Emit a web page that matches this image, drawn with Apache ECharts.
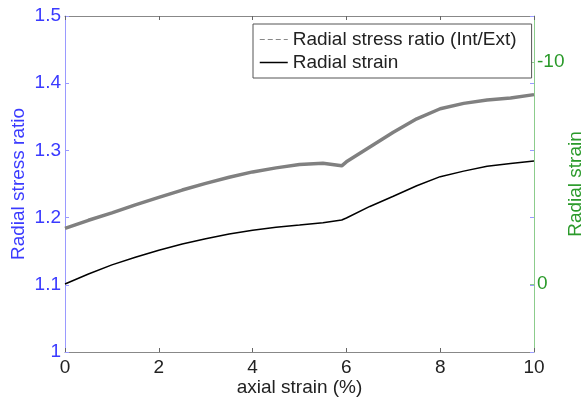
<!DOCTYPE html>
<html>
<head>
<meta charset="utf-8">
<script src="https://cdn.jsdelivr.net/npm/echarts@6/dist/echarts.min.js"></script>
<style>
  html, body { margin: 0; padding: 0; background: #fff; }
  #chart { width: 585px; height: 398px; }
</style>
</head>
<body>
<div id="chart"></div>
<script>
// axial strain (%) sample points
const axialStrain = [0, 0.5, 1, 1.5, 2, 2.5, 3, 3.5, 4, 4.5, 5, 5.5, 5.9, 6, 6.5, 7, 7.5, 8, 8.5, 9, 9.5, 10];
// radial stress ratio (Int/Ext), left axis
const stressRatio = [1.184, 1.196, 1.207, 1.219, 1.230, 1.241, 1.251, 1.260, 1.268, 1.274, 1.279, 1.281, 1.277,
  1.283, 1.305, 1.327, 1.347, 1.362, 1.370, 1.375, 1.378, 1.383];
// radial strain, right axis (reversed)
const radialStrain = [0, -0.45, -0.86, -1.2, -1.52, -1.80, -2.04, -2.25, -2.42, -2.55, -2.65, -2.76, -2.88,
  -2.97, -3.49, -3.95, -4.42, -4.83, -5.08, -5.30, -5.42, -5.53];
const strainTicks = [-10, 0];

const font = 'Liberation Sans, Arial, sans-serif';
const blue = '#3a3aff', blueLine = '#9a9aff';
const green = '#2a9a2a', greenLine = '#8ccc8c';

const chart = echarts.init(document.getElementById('chart'));

let option = {
    animation: false,
    grid: { left: 65, right: 51, top: 16, bottom: 46, containLabel: false, outerBoundsMode: 'none' },
    legend: {
        orient: 'vertical',
        left: 253,
        top: 24,
        padding: [6, 15, 6, 6],
        borderColor: '#555',
        borderWidth: 1,
        backgroundColor: '#fff',
        itemWidth: 28,
        itemHeight: 14,
        itemGap: 4,
        textStyle: { fontFamily: font, fontSize: 19, lineHeight: 19, color: '#222' },
        data: [
            { name: 'Radial stress ratio (Int/Ext)', itemStyle: { color: 'transparent', borderWidth: 0 },
              lineStyle: { type: [5, 3], width: 1.2, color: '#888' } },
            { name: 'Radial strain', itemStyle: { color: 'transparent', borderWidth: 0 },
              lineStyle: { width: 1.5, color: '#000' } }
        ]
    },
    xAxis: [{
        type: 'value', min: 0, max: 10, interval: 2,
        name: 'axial strain (%)', nameLocation: 'middle', nameGap: 26, nameMoveOverlap: false,
        nameTextStyle: { fontFamily: font, fontSize: 19, color: '#222' },
        axisLine: { onZero: false, lineStyle: { color: '#888' } },
        axisTick: { inside: true, length: 4, lineStyle: { color: '#666' } },
        axisLabel: { fontFamily: font, fontSize: 19, color: '#222', margin: 6 },
        splitLine: { show: false }
    }, {
        type: 'value', min: 0, max: 10, interval: 2, position: 'top',
        axisLine: { onZero: false, lineStyle: { color: '#888' } },
        axisTick: { inside: true, length: 4, lineStyle: { color: '#666' } },
        axisLabel: { show: false },
        splitLine: { show: false }
    }],
    yAxis: [{
        type: 'value', min: 1, max: 1.5, interval: 0.1, position: 'left',
        name: 'Radial stress ratio', nameLocation: 'middle', nameGap: 37, nameRotate: 90, nameMoveOverlap: false,
        nameTextStyle: { fontFamily: font, fontSize: 19, color: blue },
        axisLine: { show: true, onZero: false, lineStyle: { color: blueLine } },
        axisTick: { inside: true, length: 4, lineStyle: { color: blueLine } },
        axisLabel: { fontFamily: font, fontSize: 19, color: blue, margin: 4 },
        splitLine: { show: false }
    }, {
        type: 'value', min: -12.06, max: 3.06, inverse: true, position: 'right',
        name: 'Radial strain', nameLocation: 'middle', nameGap: 32, nameRotate: 90, nameMoveOverlap: false,
        nameTextStyle: { fontFamily: font, fontSize: 19, color: green },
        axisLine: { show: true, onZero: false, lineStyle: { color: greenLine } },
        axisTick: { inside: true, length: 4, customValues: strainTicks, lineStyle: { color: greenLine } },
        axisLabel: { fontFamily: font, fontSize: 19, color: green, margin: 3, customValues: strainTicks,
                     formatter: v => (v < 0 ? '-' : '') + Math.abs(v) },
        splitLine: { show: false }
    }, {
        type: 'value', min: 1, max: 1.5, interval: 0.1, position: 'right',
        axisLine: { show: false, onZero: false },
        axisTick: { show: true, inside: true, length: 4, lineStyle: { color: blueLine } },
        axisLabel: { show: false },
        splitLine: { show: false }
    }],
    series: [{
        name: 'Radial stress ratio (Int/Ext)',
        type: 'line', yAxisIndex: 0, symbol: 'none', z: 2,
        lineStyle: { color: '#808080', width: 3.5 },
        itemStyle: { color: '#808080' },
        data: axialStrain.map((x, i) => [x, stressRatio[i]])
    }, {
        name: 'Radial strain',
        type: 'line', yAxisIndex: 1, symbol: 'none', z: 3,
        lineStyle: { color: '#000', width: 1.5 },
        itemStyle: { color: '#000' },
        data: axialStrain.map((x, i) => [x, radialStrain[i]])
    }]
};

chart.setOption(option);
</script>
</body>
</html>
